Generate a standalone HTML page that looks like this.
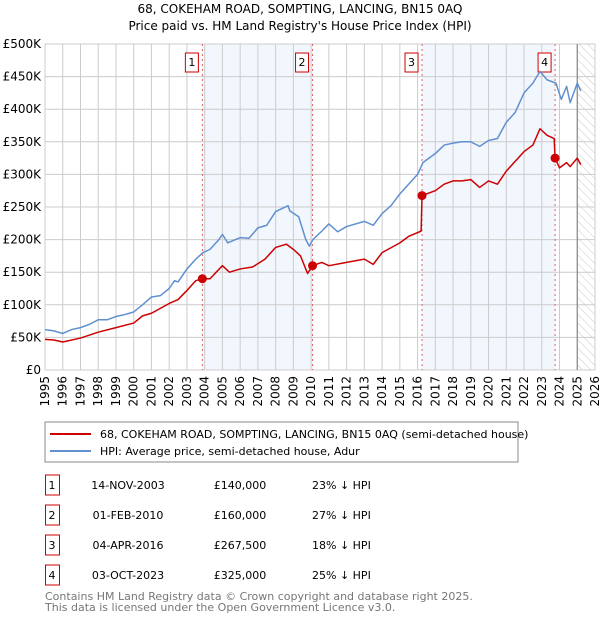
<!DOCTYPE html>
<html><head><meta charset="utf-8"><style>
body{margin:0;background:#fff;font-family:"DejaVu Sans","Liberation Sans",sans-serif;}
svg text{font-family:"DejaVu Sans","Liberation Sans",sans-serif;}
</style></head><body>
<svg id="c" width="600" height="620" viewBox="0 0 600 620" xmlns="http://www.w3.org/2000/svg">
<defs><pattern id="hatch" width="6" height="6" patternUnits="userSpaceOnUse" patternTransform="rotate(-45)"><line x1="0" y1="0" x2="0" y2="6" stroke="#bbb" stroke-width="0.8"/></pattern></defs>
<text x="300" y="13" text-anchor="middle" font-size="12">68, COKEHAM ROAD, SOMPTING, LANCING, BN15 0AQ</text>
<text x="300" y="30" text-anchor="middle" font-size="12">Price paid vs. HM Land Registry's House Price Index (HPI)</text>
<g id="plot"></g>
<rect x="45" y="422" width="473" height="40" fill="#fff" stroke="#888"/>
<line x1="50" y1="434" x2="91" y2="434" stroke="#cc0000" stroke-width="2"/>
<text x="100" y="438" font-size="11">68, COKEHAM ROAD, SOMPTING, LANCING, BN15 0AQ (semi-detached house)</text>
<line x1="50" y1="451" x2="91" y2="451" stroke="#6090d0" stroke-width="2"/>
<text x="100" y="455" font-size="11">HPI: Average price, semi-detached house, Adur</text>
<g id="tbl"></g>
<text x="45" y="600" font-size="11" fill="#777">Contains HM Land Registry data © Crown copyright and database right 2025.</text>
<text x="45" y="611" font-size="11" fill="#777">This data is licensed under the Open Government Licence v3.0.</text>
</svg>
<script>
const hpiT=[1995,1995.5,1996,1996.5,1997,1997.5,1998,1998.5,1999,1999.5,2000,2000.5,2001,2001.5,2002,2002.3,2002.5,2003,2003.5,2003.9,2004.3,2004.8,2005,2005.3,2006,2006.5,2007,2007.5,2008,2008.7,2008.8,2009.3,2009.7,2009.9,2010.1,2010.6,2011,2011.5,2012,2013,2013.5,2014,2014.5,2015,2015.5,2016,2016.3,2017,2017.5,2018,2018.5,2019,2019.5,2020,2020.5,2021,2021.5,2022,2022.5,2022.9,2023.3,2023.8,2024.1,2024.4,2024.6,2025,2025.2];
const hpiV=[62,60,56,62,65,70,77,77,82,85,89,100,112,114,125,137,135,155,170,180,185,200,208,195,203,202,218,222,243,252,244,235,200,190,200,213,224,212,220,228,222,240,252,270,285,300,318,332,345,348,350,350,343,352,355,380,395,425,440,458,445,440,415,435,410,440,428];
const redT=[1995,1995.5,1996,1997,1998,1999,2000,2000.5,2001,2002,2002.5,2003,2003.5,2003.87,2004.3,2005,2005.4,2006,2006.7,2007.4,2008,2008.6,2009,2009.4,2009.8,2010.08,2010.6,2011,2012,2013,2013.5,2014,2015,2015.5,2016.2,2016.25,2017,2017.5,2018,2018.5,2019,2019.5,2020,2020.5,2021,2022,2022.5,2022.9,2023.3,2023.7,2023.75,2024,2024.4,2024.6,2025,2025.2];
const redV=[47,46,43,49,58,65,72,83,87,102,108,122,137,140,140,160,150,155,158,170,188,193,185,175,148,160,165,160,165,170,162,180,195,205,213,267.5,275,285,290,290,292,280,290,285,305,335,345,370,360,355,325,310,318,312,325,315];
const saleT=[2003.87,2010.08,2016.25,2023.75];
const saleV=[140,160,267.5,325];
const saleLabels=["1","2","3","4"];
const saleDates=["14-NOV-2003","01-FEB-2010","04-APR-2016","03-OCT-2023"];
const salePrices=["£140,000","£160,000","£267,500","£325,000"];
const saleDiffs=["23% ↓ HPI","27% ↓ HPI","18% ↓ HPI","25% ↓ HPI"];
const yTicks=[0,50,100,150,200,250,300,350,400,450,500];
const yLabels=["£0","£50K","£100K","£150K","£200K","£250K","£300K","£350K","£400K","£450K","£500K"];
const xYears=[];for(let y=1995;y<=2026;y++)xYears.push(y);

const L=45,R=595,T=44,B=370;
const X=t=>L+(t-1995)/(2026-1995)*(R-L);
const Y=v=>B-v/500*(B-T);
const NS="http://www.w3.org/2000/svg";
const g=document.getElementById('plot');
function mk(tag,attrs,parent){const e=document.createElementNS(NS,tag);for(const k in attrs)e.setAttribute(k,attrs[k]);(parent||g).appendChild(e);return e;}

// shading
[[0,1],[2,3]].forEach(([a,b])=>{
 const r=mk('rect',{x:X(saleT[a]),y:T,width:X(saleT[b])-X(saleT[a]),height:B-T,fill:'#eef3fc',opacity:0.75});
 
 
});
const hx=X(2025.0);
const hr=mk('rect',{x:hx,y:T,width:R-hx,height:B-T,fill:'url(#hatch)'});


// grid
yTicks.forEach((v,i)=>{
 const l=mk('line',{x1:L,x2:R,y1:Y(v),y2:Y(v),stroke:'#ccc'});
 
 
 const t=mk('text',{x:L-4,y:Y(v)+4,'text-anchor':'end','font-size':12});
 t.textContent=yLabels[i];
 
 
});
xYears.forEach(y=>{
 const l=mk('line',{x1:X(y),x2:X(y),y1:T,y2:B,stroke:'#ccc'});
 
 
 const t=mk('text',{x:0,y:0,'text-anchor':'end','font-size':12,transform:`translate(${X(y)+4},${B+6}) rotate(-90)`});
 t.textContent=y;
 
 
});
const vl=mk('line',{x1:X(2025.0),x2:X(2025.0),y1:T,y2:B,stroke:'#888','stroke-width':1.2});


// sale markers
saleT.forEach((t,i)=>{
 const l=mk('line',{x1:X(t),x2:X(t),y1:T,y2:B,stroke:'#e06060','stroke-dasharray':'2,3'});
 
 
 const bx=mk('rect',{x:X(t)-17,y:53,width:13,height:19,fill:'#fff',stroke:'#cc0000'});
 
 
 const tx=mk('text',{x:X(t)-10.5,y:66,'text-anchor':'middle','font-size':11});
 tx.textContent=saleLabels[i];
 
 
});
function line(ts,vs,col,name){
 const p=mk('polyline',{points:ts.map((t,i)=>X(t)+','+Y(vs[i])).join(' '),fill:'none',stroke:col,'stroke-width':1.5,'stroke-linejoin':'round'});
 
 
}
line(hpiT,hpiV,'#6090d0','hpi-line');
line(redT,redV,'#cc0000','price-paid-line');
saleT.forEach((t,i)=>{
 const c=mk('circle',{cx:X(t),cy:Y(saleV[i]),r:4.5,fill:'#cc0000'});
 
 
});
// table
const tb=document.getElementById('tbl');
saleLabels.forEach((s,i)=>{
 const y=485+i*30;
 const r=mk('rect',{x:45.5,y:y-10,width:14,height:20,fill:'#fff',stroke:'#cc0000'},tb);
 
 
 const cells=[[52,s,'middle'],[128,saleDates[i],'middle'],[240,salePrices[i],'middle'],[312,saleDiffs[i],'start']];
 cells.forEach(([x,txt,a],j)=>{
  const t=mk('text',{x:x,y:y+4,'text-anchor':a,'font-size':11},tb);
  t.textContent=txt;
  
  
 });
});
</script>
</body></html>
